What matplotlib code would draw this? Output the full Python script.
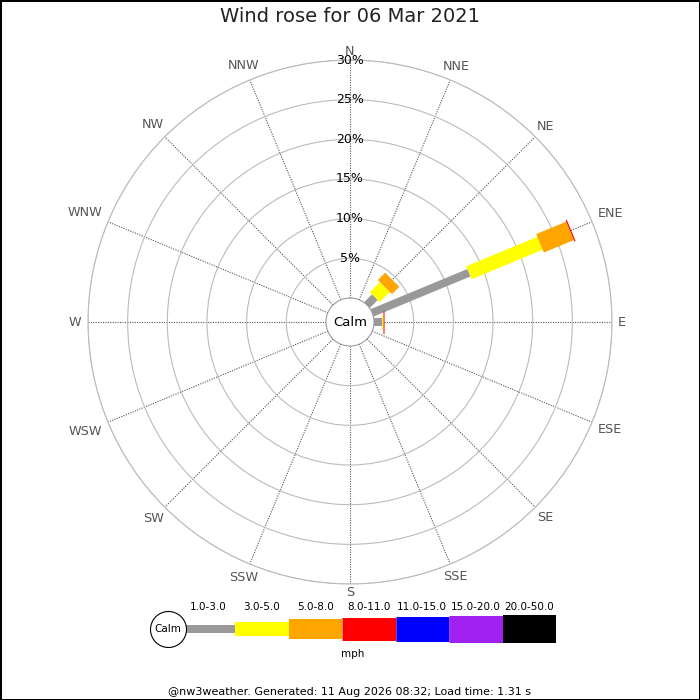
import numpy as np
import matplotlib.pyplot as plt

# Wind data, % of time per direction split into speed bins (mph)
directions = ["N", "NNE", "NE", "ENE", "E", "ESE", "SE", "SSE",
              "S", "SSW", "SW", "WSW", "W", "WNW", "NW", "NNW"]
speed_bins = ["1.0-3.0", "3.0-5.0", "5.0-8.0", "8.0-11.0",
              "11.0-15.0", "15.0-20.0", "20.0-50.0"]
bin_colors = ["#999999", "#ffff00", "#ffa500", "#ff0000",
              "#0000ff", "#a020f0", "#000000"]
ne_freq = [1.4, 1.8, 1.3, 0, 0, 0, 0]
ene_freq = [13.2, 9.7, 4.1, 0.15, 0, 0, 0]
e_freq = [0.95, 0.2, 0, 0.15, 0, 0, 0]
pct_ticks = [5, 10, 15, 20, 25, 30]

title = "Wind rose for 06 Mar 2021"
footer = "@nw3weather. Generated: 11 Aug 2026 08:32; Load time: 1.31 s"

freq = {d: [0] * len(speed_bins) for d in directions}
freq["NE"] = ne_freq
freq["ENE"] = ene_freq
freq["E"] = e_freq

# bar thickness per bin, in pixels (converted to points below)
bin_widths = [8, 14, 20, 23, 25, 27, 28]
PX = 72 / 100

fig = plt.figure(figsize=(7, 7), dpi=100)
fig.patch.set_edgecolor("black")
fig.patch.set_linewidth(2)

# Rose
ax = fig.add_axes([88 / 700, 116 / 700, 524 / 700, 524 / 700], projection="polar")
ax.set_theta_zero_location("N")
ax.set_theta_direction(-1)
ax.set_ylim(0, 30)
ax.set_rorigin(-3.03)

ax.set_rgrids(pct_ticks, labels=[])
ax.set_thetagrids(np.arange(16) * 22.5, labels=[""] * 16)
ax.yaxis.grid(True, color="#bbbbbb", lw=0.8, ls="-")
ax.xaxis.grid(True, color="#555555", lw=0.8, ls=(0, (1, 1.2)))
ax.spines["polar"].set_color("#bbbbbb")
ax.spines["polar"].set_linewidth(0.8)
ax.spines["inner"].set_color("#999999")
ax.spines["inner"].set_linewidth(0.8)

# direction labels: box pushed out just clear of the outer ring
renderer = fig.canvas.get_renderer()
for i, d in enumerate(directions):
    th = np.deg2rad(i * 22.5)
    t = ax.annotate(d, xy=(th, 30), xytext=(0, 0), textcoords="offset points",
                    ha="center", va="center", fontsize=9.2, color="#555555",
                    annotation_clip=False)
    bb = t.get_window_extent(renderer)
    sx, sy = np.sin(th), np.cos(th)
    reach = bb.width * 1.15 / 2 * abs(sx) + bb.height * 0.5 / 2 * abs(sy)
    dist = (5.5 + reach) * PX
    t.xyann = (dist * sx, dist * sy)

for p in pct_ticks:
    ax.text(0, p, f"{p}%", ha="center", va="center", fontsize=9, color="black")

for i, d in enumerate(directions):
    th = np.deg2rad(i * 22.5)
    lo = 0
    for val, col, w in zip(freq[d], bin_colors, bin_widths):
        if val <= 0:
            continue
        ax.plot([th, th], [lo, lo + val], color=col, lw=w * PX,
                solid_capstyle="butt", zorder=3)
        lo += val

ax.text(0.5, 0.5, "Calm", transform=ax.transAxes, ha="center", va="center",
        fontsize=9.5)

# Legend strip
lax = fig.add_axes([140 / 700, 31 / 700, 430 / 700, 80 / 700])
lax.set_xlim((140 - 181.5) / 53.5, (570 - 181.5) / 53.5)
lax.set_ylim(-40, 40)
lax.axis("off")
for i, (lab, col, w) in enumerate(zip(speed_bins, bin_colors, bin_widths)):
    lax.plot([i, i + 1], [0, 0], color=col, lw=w * PX, solid_capstyle="butt")
    lax.text(i + 0.5, 22, lab, ha="center", va="center", fontsize=7.5)
lax.plot([-0.25], [0], marker="o", ms=36 * PX, mfc="white", mec="black",
         mew=0.8, zorder=5)
lax.text(-0.25, 0, "Calm", ha="center", va="center", fontsize=7.5, zorder=6)
lax.text(3.2, -25, "mph", ha="center", va="center", fontsize=7.5)

fig.text(0.5, 1 - 17 / 700, title, ha="center", va="center", fontsize=14,
         color="#222222")
fig.text(0.5, 1 - 692 / 700, footer, ha="center", va="center", fontsize=8)

fig.savefig("out.png", dpi=100)
